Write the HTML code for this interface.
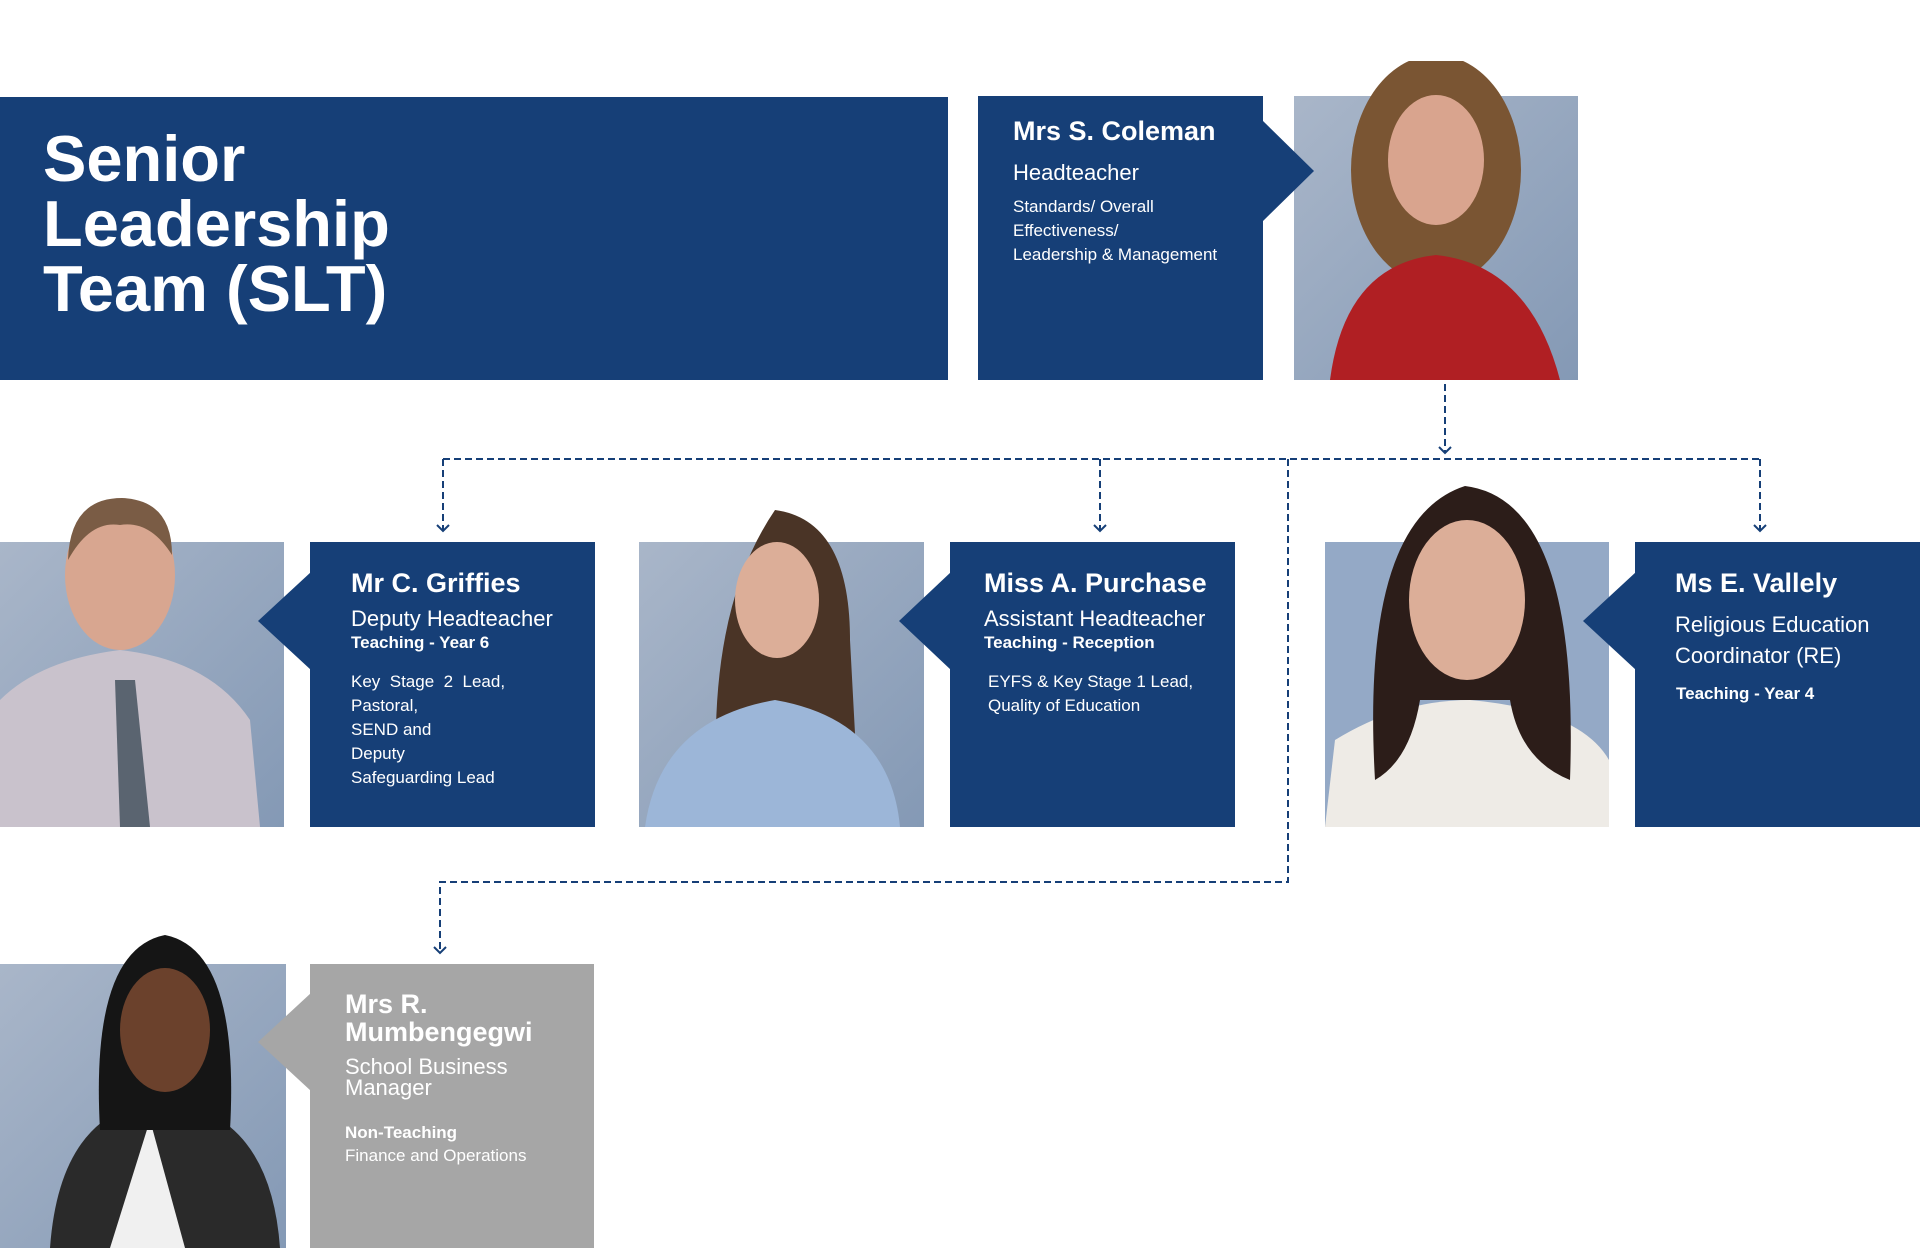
<!DOCTYPE html>
<html><head><meta charset="utf-8"><style>
body{margin:0;width:1920px;height:1248px;background:#fff;position:relative;overflow:hidden;font-family:"Liberation Sans",sans-serif;color:#fff}
.a{position:absolute}
.navy{background:#163f77}
.t{position:absolute;white-space:nowrap}
.nm{font-size:27px;font-weight:bold}
.ti{font-size:22px}
.b{font-size:17px;font-weight:bold}
.s{font-size:17px;line-height:24px}
</style></head><body>

<div class="a navy" style="left:0;top:97px;width:948px;height:283px"></div>
<div class="t" style="left:43px;top:126px;font-size:65px;font-weight:bold;line-height:65px">Senior<br>Leadership<br>Team (SLT)</div>

<!-- Coleman -->
<div class="a navy" style="left:978px;top:96px;width:285px;height:284px"></div>
<div class="t nm" style="left:1013px;top:116px">Mrs S. Coleman</div>
<div class="t ti" style="left:1013px;top:160px">Headteacher</div>
<div class="t s" style="left:1013px;top:195px">Standards/ Overall<br>Effectiveness/<br>Leadership &amp; Management</div>

<svg class="a" style="left:0;top:0" width="1920" height="1248">
<defs>
<linearGradient id="bg" x1="0" y1="0" x2="1" y2="1"><stop offset="0" stop-color="#a9b6c9"/><stop offset="1" stop-color="#8499b5"/></linearGradient>
<clipPath id="c1"><rect x="1294" y="61" width="284" height="319"/></clipPath>
<clipPath id="c2"><rect x="0" y="496" width="284" height="331"/></clipPath>
<clipPath id="c3"><rect x="639" y="500" width="285" height="327"/></clipPath>
<clipPath id="c4"><rect x="1325" y="486" width="284" height="341"/></clipPath>
<clipPath id="c5"><rect x="0" y="930" width="286" height="318"/></clipPath>
</defs>
<!-- photo 1 -->
<rect x="1294" y="96" width="284" height="284" fill="url(#bg)"/>
<g clip-path="url(#c1)">
<ellipse cx="1436" cy="170" rx="85" ry="115" fill="#7a5533"/>
<path d="M1330 380 Q1345 265 1436 255 Q1530 265 1560 380Z" fill="#b01f23"/>
<ellipse cx="1436" cy="160" rx="48" ry="65" fill="#d9a48e"/>
</g>
<polygon points="1262,120 1314,171 1262,222" fill="#163f77"/>
<!-- photo 2 -->
<rect x="0" y="542" width="284" height="285" fill="url(#bg)"/>
<g clip-path="url(#c2)">
<path d="M0 827 L0 700 Q40 660 120 650 Q210 660 250 720 L260 827Z" fill="#c9c2cc"/>
<polygon points="115,680 135,680 150,827 120,827" fill="#5a6470"/>
<ellipse cx="120" cy="575" rx="55" ry="75" fill="#d8a690"/>
<path d="M68 560 Q70 498 122 498 Q172 500 172 555 Q150 520 120 525 Q90 520 68 560Z" fill="#7a5c45"/>
</g>
<!-- photo 3 -->
<rect x="639" y="542" width="285" height="285" fill="url(#bg)"/>
<g clip-path="url(#c3)">
<path d="M720 827 Q700 620 775 510 Q850 520 850 640 L860 827Z" fill="#4a3426"/>
<path d="M645 827 Q660 720 775 700 Q890 720 900 827Z" fill="#9cb6d8"/>
<ellipse cx="777" cy="600" rx="42" ry="58" fill="#dcae98"/>
</g>
<!-- photo 4 -->
<rect x="1325" y="542" width="284" height="285" fill="#94a9c6"/>
<g clip-path="url(#c4)">
<path d="M1325 827 L1335 740 Q1400 700 1470 700 Q1580 710 1609 760 L1609 827Z" fill="#eeebe6"/>
<path d="M1375 780 Q1360 520 1465 486 Q1580 500 1570 780 Q1520 760 1510 700 L1420 700 Q1410 760 1375 780Z" fill="#2c1d19"/>
<ellipse cx="1467" cy="600" rx="58" ry="80" fill="#dcae98"/>
</g>
<!-- photo 5 -->
<rect x="0" y="964" width="286" height="284" fill="url(#bg)"/>
<g clip-path="url(#c5)">
<path d="M50 1248 Q60 1110 160 1100 Q270 1110 280 1248Z" fill="#2a2a2a"/>
<path d="M110 1248 L150 1120 L185 1248Z" fill="#f0f0f0"/>
<path d="M100 1130 Q90 950 165 935 Q240 950 230 1130Z" fill="#151515"/>
<ellipse cx="165" cy="1030" rx="45" ry="62" fill="#6b412c"/>
</g>
<!-- connectors -->
<g stroke="#163f77" stroke-width="2" stroke-dasharray="7,4" fill="none">
<path d="M1445 384 V453"/>
<path d="M443 459 H1760"/>
<path d="M443 459 V531"/><path d="M1100 459 V531"/><path d="M1760 459 V531"/>
<path d="M1288 459 V882 H440 V953"/>
</g>
<g stroke="#163f77" stroke-width="2" fill="none">
<path d="M1439 447 L1445 453 L1451 447"/>
<path d="M437 525 L443 531 L449 525"/>
<path d="M1094 525 L1100 531 L1106 525"/>
<path d="M1754 525 L1760 531 L1766 525"/>
<path d="M434 947 L440 953 L446 947"/>
</g>
<!-- arrows on boxes -->
<polygon points="311,572 258,621 311,670" fill="#163f77"/>
<polygon points="951,572 899,621 951,670" fill="#163f77"/>
<polygon points="1636,572 1583,621 1636,670" fill="#163f77"/>
<polygon points="311,993 258,1042 311,1091" fill="#a6a6a6"/>
</svg>

<!-- Griffies -->
<div class="a navy" style="left:310px;top:542px;width:285px;height:285px"></div>
<div class="t nm" style="left:351px;top:568px">Mr C. Griffies</div>
<div class="t ti" style="left:351px;top:606px">Deputy Headteacher</div>
<div class="t b" style="left:351px;top:633px">Teaching - Year 6</div>
<div class="t s" style="left:351px;top:670px">Key&nbsp; Stage&nbsp; 2&nbsp; Lead,<br>Pastoral,<br>SEND and<br>Deputy<br>Safeguarding Lead</div>

<!-- Purchase -->
<div class="a navy" style="left:950px;top:542px;width:285px;height:285px"></div>
<div class="t nm" style="left:984px;top:568px">Miss A. Purchase</div>
<div class="t ti" style="left:984px;top:606px">Assistant Headteacher</div>
<div class="t b" style="left:984px;top:633px">Teaching - Reception</div>
<div class="t s" style="left:988px;top:670px">EYFS &amp; Key Stage 1 Lead,<br>Quality of Education</div>

<!-- Vallely -->
<div class="a navy" style="left:1635px;top:542px;width:285px;height:285px"></div>
<div class="t nm" style="left:1675px;top:568px">Ms E. Vallely</div>
<div class="t ti" style="left:1675px;top:609px;line-height:31px">Religious Education<br>Coordinator (RE)</div>
<div class="t b" style="left:1676px;top:684px">Teaching - Year 4</div>

<!-- Mumbengegwi -->
<div class="a" style="left:310px;top:964px;width:284px;height:284px;background:#a6a6a6"></div>
<div class="t nm" style="left:345px;top:990px;line-height:28px">Mrs R.<br>Mumbengegwi</div>
<div class="t ti" style="left:345px;top:1056px;line-height:21px">School Business<br>Manager</div>
<div class="t b" style="left:345px;top:1123px">Non-Teaching</div>
<div class="t s" style="left:345px;top:1144px">Finance and Operations</div>

</body></html>
